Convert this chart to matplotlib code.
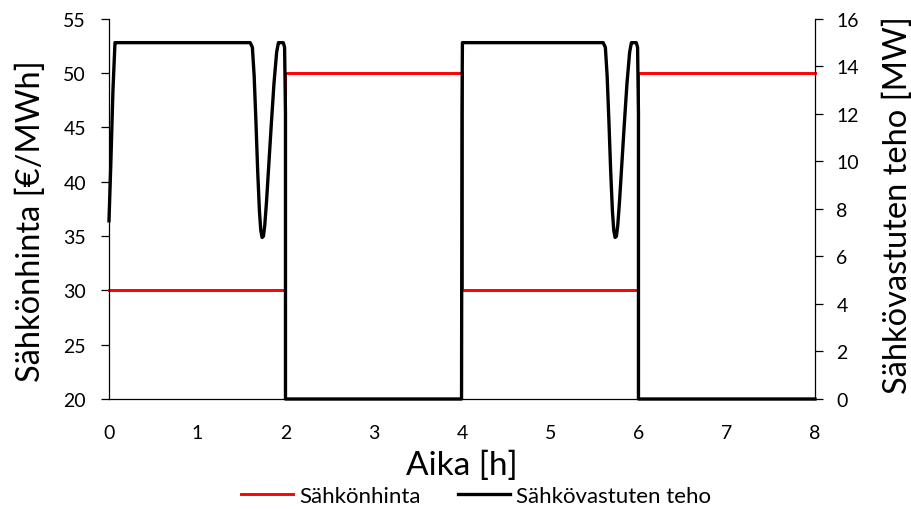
import matplotlib
matplotlib.use("Agg")
import matplotlib.pyplot as plt

# electricity price (step), left axis
price_t = [0, 2, 2, 4, 4, 6, 6, 8]
price = [30, 30, 50, 50, 30, 30, 50, 50]

# electric boiler power, right axis
power_t = [0.0, 0.02, 0.045, 0.068, 0.08,
           1.60, 1.625, 1.645, 1.665, 1.685, 1.705, 1.72, 1.735, 1.75, 1.765, 1.785,
           1.81, 1.84, 1.87, 1.90, 1.92, 1.935, 1.975, 1.99, 2.0,
           2.0, 3.995, 4.0, 4.005,
           5.60, 5.625, 5.645, 5.665, 5.685, 5.705, 5.72, 5.735, 5.75, 5.765, 5.785,
           5.81, 5.84, 5.87, 5.90, 5.92, 5.935, 5.975, 5.99, 6.0,
           6.0, 8.0]
power = [7.5, 9.8, 13.0, 15.0, 15.0,
         15.0, 14.8, 13.6, 11.7, 9.6, 7.9, 7.1, 6.8, 6.85, 7.3, 8.3,
         9.8, 11.6, 13.3, 14.6, 15.0, 15.0, 15.0, 14.8, 12.0,
         0.0, 0.0, 12.0, 15.0,
         15.0, 14.8, 13.6, 11.7, 9.6, 7.9, 7.1, 6.8, 6.85, 7.3, 8.3,
         9.8, 11.6, 13.3, 14.6, 15.0, 15.0, 15.0, 14.8, 12.0,
         0.0, 0.0]

plt.rcParams['font.family'] = ['Lato', 'DejaVu Sans']

fig = plt.figure(figsize=(9.12, 5.10), dpi=100)
ax = fig.add_axes([0.1195, 0.2157, 0.7741, 0.7453])
ax2 = ax.twinx()

l1, = ax.plot(price_t, price, color='#ff0000', lw=2.1, label='Sähkönhinta', clip_on=False)
l2, = ax2.plot(power_t, power, color='black', lw=2.4, label='Sähkövastuten teho',
               clip_on=False, solid_joinstyle='round')

ax.set_xlim(0, 8)
ax.set_ylim(20, 55)
ax2.set_ylim(0, 16)
ax.set_yticks(range(20, 56, 5))
ax2.set_yticks(range(0, 17, 2))
ax.set_xticks(range(0, 9))

for a in (ax, ax2):
    for s in a.spines.values():
        s.set_linewidth(0.9)
    a.spines['top'].set_visible(False)
ax.spines['right'].set_visible(False)
ax2.spines['left'].set_visible(False)
ax2.spines['bottom'].set_visible(False)

ax.tick_params(axis='x', length=0, pad=18, labelsize=14)
ax.tick_params(axis='y', direction='out', length=5.5, width=0.9, labelsize=14, pad=11)
ax2.tick_params(axis='y', direction='out', length=5.5, width=0.9, labelsize=14, pad=10)

ax.set_xlabel('Aika [h]', fontsize=24, labelpad=6)
ax.set_ylabel('Sähkönhinta [€/MWh]', fontsize=23.5, labelpad=12.5)
ax2.set_ylabel('Sähkövastuten teho [MW]', fontsize=23.5, labelpad=17)
ax.yaxis.label.set_y(0.47)
ax2.yaxis.label.set_y(0.513)

fig.legend(handles=[l1, l2], loc='center', bbox_to_anchor=(0.522, 0.025), ncol=2,
           frameon=False, fontsize=16, handlelength=2.35, handletextpad=0.27,
           columnspacing=1.7)

fig.savefig('out.png', dpi=100)
